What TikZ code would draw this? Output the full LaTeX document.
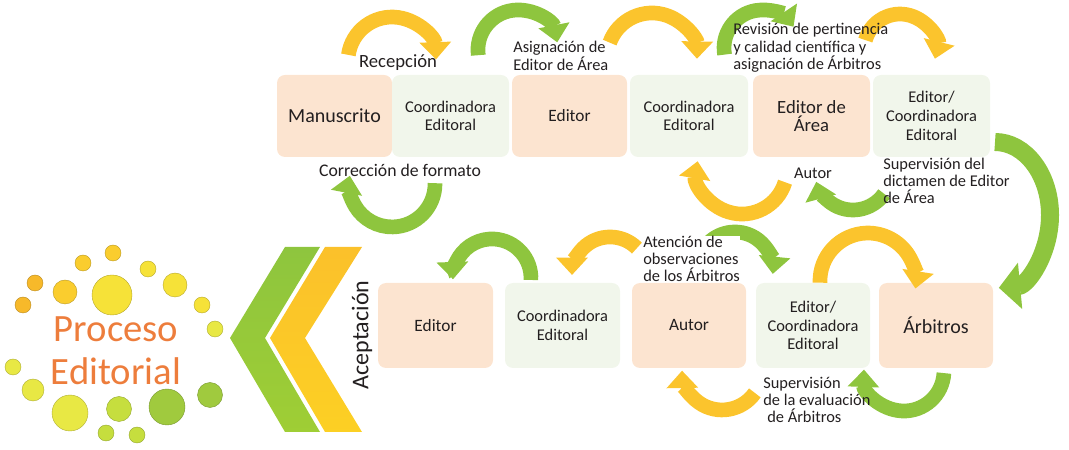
\documentclass[tikz,border=0pt]{standalone}
\usepackage{fontspec}
\setmainfont{Carlito}
\usetikzlibrary{arrows.meta}

\definecolor{peach}{RGB}{252,228,208}
\definecolor{mint}{RGB}{241,246,235}
\definecolor{sun}{RGB}{251,196,45}
\definecolor{leaf}{RGB}{142,197,62}
\definecolor{ink}{RGB}{35,31,32}
\definecolor{tangerine}{RGB}{237,125,60}
\definecolor{dotA}{RGB}{247,185,42}
\definecolor{dotB}{RGB}{250,205,46}
\definecolor{dotC}{RGB}{246,226,56}
\definecolor{dotD}{RGB}{232,232,68}
\definecolor{dotE}{RGB}{198,222,62}
\definecolor{dotF}{RGB}{160,202,62}

\begin{document}
\begin{tikzpicture}[x=0.75pt, y=0.75pt,
    box/.style={rounded corners=6pt, align=center, inner sep=0pt, text=ink, minimum height=61.5pt},
    peachbox/.style={box, fill=peach},
    mintbox/.style={box, fill=mint, font=\fontsize{12.3}{14}\selectfont},
    lbl/.style={text=ink, align=left, inner sep=0pt, font=\fontsize{12.3}{13}\selectfont},
    yarrow/.style={sun, line width=11pt, -{Triangle[width=23pt,length=13pt]}},
    garrow/.style={leaf, line width=11pt, -{Triangle[width=23pt,length=13pt]}},
    dot/.style={fill=#1, draw=#1!75!black, line width=0.3pt}]
    \useasboundingbox (0,0) rectangle (1069,449);

    % Dots around the title
    \filldraw[dot=dotB] (83,186) circle[radius=8];
    \filldraw[dot=dotB] (113,196) circle[radius=8];
    \filldraw[dot=dotC] (148,180) circle[radius=8];
    \filldraw[dot=dotA] (35,166) circle[radius=8];
    \filldraw[dot=dotB] (65,157) circle[radius=12];
    \filldraw[dot=dotC] (112,154) circle[radius=20];
    \filldraw[dot=dotC] (175,164) circle[radius=12];
    \filldraw[dot=dotA] (23,144) circle[radius=8];
    \filldraw[dot=dotC] (202,144) circle[radius=8];
    \filldraw[dot=dotD] (215,120) circle[radius=8];
    \filldraw[dot=dotD] (13,82) circle[radius=8];
    \filldraw[dot=dotD] (33,59) circle[radius=11];
    \filldraw[dot=dotD] (70,36) circle[radius=18];
    \filldraw[dot=dotE] (119,40) circle[radius=12.5];
    \filldraw[dot=dotF] (167,42) circle[radius=18];
    \filldraw[dot=dotF] (210,54) circle[radius=12.5];
    \filldraw[dot=dotE] (106,16) circle[radius=8];
    \filldraw[dot=dotE] (137,14) circle[radius=8];

    % Chevrons
    \path[top color=leaf, bottom color=leaf!85!yellow]
        (285,202) -- (320,202) -- (265,111) -- (320,17) -- (285,17) -- (230,111) -- cycle;
    \path[top color=sun!95!orange, bottom color=sun!80!yellow]
        (325,202) -- (362,202) -- (305,111) -- (362,17) -- (325,17) -- (270,111) -- cycle;

    % Define nodes
    \node[text=tangerine, align=center, font=\fontsize{29}{32}\selectfont] (pro) at (116,98) {Proceso\\Editorial};
    \node[rotate=90, text=ink, font=\fontsize{18}{18}\selectfont] (ace) at (362,114) {Aceptación};

    \node[peachbox, minimum width=86.25pt, font=\fontsize{15}{16}\selectfont] (man) at (334.5,333) {Manuscrito};
    \node[mintbox, minimum width=87.75pt] (coo1) at (450.5,333) {Coordinadora\\Editoral};
    \node[peachbox, minimum width=86.25pt, font=\fontsize{13}{14}\selectfont] (edi1) at (569.5,333) {Editor};
    \node[mintbox, minimum width=88.5pt] (coo2) at (689,333) {Coordinadora\\Editoral};
    \node[peachbox, minimum width=87.75pt, font=\fontsize{14}{13.5}\selectfont] (eda) at (811.5,333) {Editor de\\Área};
    \node[mintbox, minimum width=87.75pt] (ec1) at (931.5,333) {Editor/\\Coordinadora\\Editoral};

    \node[peachbox, minimum width=86.25pt, minimum height=63.75pt, font=\fontsize{13}{14}\selectfont] (edi2) at (435.5,123.5) {Editor};
    \node[mintbox, minimum width=86.25pt, minimum height=63.75pt] (coo3) at (562.5,123.5) {Coordinadora\\Editoral};
    \node[peachbox, minimum width=85.5pt, minimum height=63.75pt, font=\fontsize{13}{14}\selectfont] (aut) at (689,123.5) {Autor};
    \node[mintbox, minimum width=85.5pt, minimum height=63.75pt] (ec2) at (813,123.5) {Editor/\\Coordinadora\\Editoral};
    \node[peachbox, minimum width=85.5pt, minimum height=63.75pt, font=\fontsize{15}{16}\selectfont] (arb) at (936,123.5) {Árbitros};

    % Arrow tails
    \coordinate (t1) at (348.4,394.1);
    \coordinate (t2) at (478.3,393.8);
    \coordinate (t3) at (609.7,406.4);
    \coordinate (t4) at (724.6,394.4);
    \coordinate (t5) at (865.4,408.9);
    \coordinate (t6) at (995,307);
    \coordinate (t7) at (435,265.8);
    \coordinate (t8) at (785,266.8);
    \coordinate (t9) at (884.1,255.2);
    \coordinate (t10) at (530.9,169);
    \coordinate (t11) at (636.9,200.9);
    \coordinate (t12) at (708.1,205.9);
    \coordinate (t13) at (820,166.3);
    \coordinate (t14) at (754.8,56.1);
    \coordinate (t15) at (943.9,75.9);

    % Draw curved arrows
    \draw[yarrow] (t1) arc[start angle=172, end angle=2, radius=44];
    \draw[garrow] (t2) arc[start angle=187.5, end angle=11, radius=40];
    \draw[yarrow] (t3) arc[start angle=160, end angle=-1, radius=45];
    \draw[garrow] (t4) arc[start angle=190, end angle=34, radius=38];
    \draw[yarrow] (t5) arc[start angle=164, end angle=-14, radius=36];
    \draw[garrow, line width=13.5pt, -{Triangle[width=34pt,length=16pt]}]
        (t6) arc[start angle=90, end angle=-86, x radius=55, y radius=73];
    \draw[garrow] (t7) arc[start angle=1, end angle=-191, radius=43];
    \draw[yarrow] (t8) arc[start angle=-17, end angle=-190, radius=45];
    \draw[garrow] (t9) arc[start angle=-35, end angle=-165, radius=38];
    \draw[garrow] (t10) arc[start angle=-3, end angle=182, radius=39];
    \draw[yarrow] (t11) arc[start angle=45, end angle=180, radius=38];
    \draw[garrow] (t12) arc[start angle=135, end angle=-6, radius=38];
    \draw[yarrow] (t13) arc[start angle=182, end angle=-9, radius=48];
    \draw[yarrow] (t14) arc[start angle=-35, end angle=-179, radius=40];
    \draw[garrow] (t15) arc[start angle=-3, end angle=-182, radius=40];

    % Labels
    \node[lbl, font=\fontsize{14}{15}\selectfont] (rec) at (398,386) {Recepción};
    \node[lbl, anchor=west] (asi) at (513,393) {Asignación de\\Editor de Área};
    \node[lbl, anchor=west] (rev) at (733,401) {Revisión de pertinencia\\y calidad científica y\\asignación de Árbitros};
    \node[lbl, font=\fontsize{13.3}{14}\selectfont] (cor) at (400,279) {Corrección de formato};
    \node[lbl] (au1) at (813,276) {Autor};
    \node[lbl, anchor=west] (sup1) at (883,268) {Supervisión del\\dictamen de Editor\\de Área};
    \node[lbl, anchor=west, fill=white] (ate) at (643,190) {Atención de\\observaciones\\de los Árbitros};
    \node[lbl, anchor=west] (sup2) at (763,49) {Supervisión\\de la evaluación\\\hspace{3pt}de Árbitros};
\end{tikzpicture}
\end{document}
